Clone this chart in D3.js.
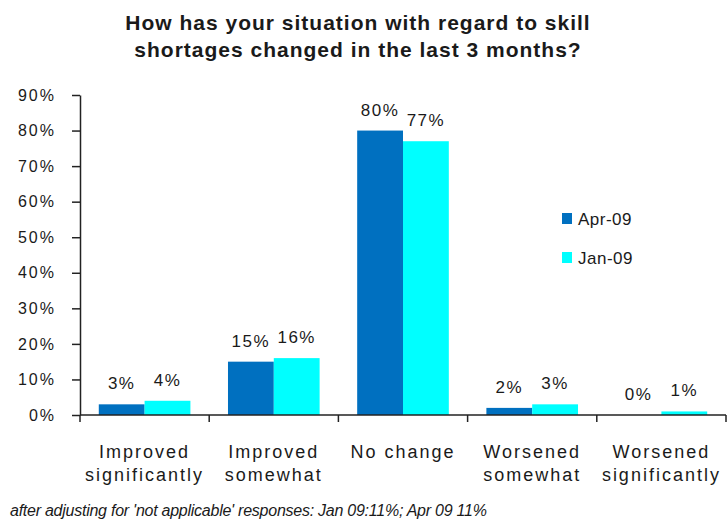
<!DOCTYPE html>
<html>
<head>
<meta charset="utf-8">
<script src="https://cdn.jsdelivr.net/npm/d3@7"></script>
<style>
  body { margin: 0; background: #fff; }
  text { fill: #1a1a1a; font-family: "Liberation Sans", Arial, sans-serif; }
</style>
</head>
<body>
<div class="chart"></div>
<script>
// data
const categories = [["Improved", "significantly"], ["Improved", "somewhat"], ["No change"], ["Worsened", "somewhat"], ["Worsened", "significantly"]];
const seriesNames = ["Apr-09", "Jan-09"];
const apr09 = [3, 15, 80, 2, 0];
const jan09 = [4, 16, 77, 3, 1];
const yTicks = [0, 10, 20, 30, 40, 50, 60, 70, 80, 90];
const colors = ["#0070c0", "#00ffff"];

const width = 727, height = 530;
const margin = {top: 95, right: 1, bottom: 115, left: 80};

const svg = d3.select(".chart").append("svg")
    .attr("width", width)
    .attr("height", height);

// title
svg.append("text")
    .attr("x", 358).attr("y", 30)
    .attr("text-anchor", "middle")
    .style("font-size", "21px")
    .style("font-weight", "bold")
    .style("letter-spacing", "1px")
    .selectAll("tspan")
    .data(["How has your situation with regard to skill", "shortages changed in the last 3 months?"])
    .enter().append("tspan")
    .attr("x", 358)
    .attr("dy", (d, i) => i ? 27 : 0)
    .text(d => d);

const x = d3.scaleBand()
    .domain(d3.range(categories.length))
    .range([margin.left, width - margin.right])
    .paddingInner(0)
    .paddingOuter(0);

const xs = d3.scaleBand()
    .domain(seriesNames)
    .range([0, x.bandwidth()])
    .paddingInner(0)
    .paddingOuter(0.41);

const y = d3.scaleLinear()
    .domain([0, 90])
    .range([height - margin.bottom, margin.top]);

// y axis
const yAxis = svg.append("g")
    .attr("transform", `translate(${margin.left},0)`)
    .call(d3.axisLeft(y).tickValues(yTicks).tickFormat(d => d + "%").tickSize(8).tickSizeOuter(0));
yAxis.select(".domain").attr("stroke", "#222").attr("stroke-width", 1.5);
yAxis.selectAll(".tick line").attr("stroke", "#222").attr("stroke-width", 1.5);
yAxis.selectAll("text")
    .attr("x", -24)
    .style("font-size", "16px")
    .style("letter-spacing", "2px")
    .attr("fill", "#1a1a1a");

// bars
const groups = svg.append("g").selectAll("g")
    .data(categories.map((c, i) => ({i, vals: [apr09[i], jan09[i]]})))
    .enter().append("g")
    .attr("transform", d => `translate(${x(d.i)},0)`);

groups.selectAll("rect")
    .data(d => d.vals.map((v, k) => ({v, k})))
    .enter().append("rect")
    .attr("x", d => xs(seriesNames[d.k]))
    .attr("y", d => y(d.v))
    .attr("width", xs.bandwidth())
    .attr("height", d => y(0) - y(d.v))
    .attr("fill", d => colors[d.k]);

groups.selectAll(".lbl")
    .data(d => d.vals.map((v, k) => ({v, k})))
    .enter().append("text")
    .attr("class", "lbl")
    .attr("x", d => xs(seriesNames[d.k]) + xs.bandwidth() / 2)
    .attr("y", d => y(d.v) - 15)
    .attr("text-anchor", "middle")
    .style("font-size", "17px")
    .style("letter-spacing", "1.5px")
    .text(d => d.v + "%");

// x axis
const xAxis = svg.append("g")
    .attr("transform", `translate(0,${y(0)})`);
xAxis.append("line")
    .attr("x1", margin.left).attr("x2", width - margin.right)
    .attr("stroke", "#222").attr("stroke-width", 1.5);
xAxis.selectAll(".tk")
    .data(d3.range(categories.length + 1))
    .enter().append("line")
    .attr("x1", d => d < categories.length ? x(d) : x(d - 1) + x.bandwidth())
    .attr("x2", d => d < categories.length ? x(d) : x(d - 1) + x.bandwidth())
    .attr("y1", 0).attr("y2", 7)
    .attr("stroke", "#222").attr("stroke-width", 1.5);

xAxis.selectAll(".cat")
    .data(categories)
    .enter().append("text")
    .attr("class", "cat")
    .attr("text-anchor", "middle")
    .style("font-size", "18px")
    .style("letter-spacing", "2px")
    .selectAll("tspan")
    .data((d, i) => d.map(t => ({t, i})))
    .enter().append("tspan")
    .attr("x", d => x(d.i) + x.bandwidth() / 2)
    .attr("y", (d, j) => 43 + j * 23)
    .text(d => d.t);

// legend
const legend = svg.append("g").attr("transform", "translate(562,213)");
seriesNames.forEach((s, i) => {
  const g = legend.append("g").attr("transform", `translate(0,${i * 39})`);
  g.append("rect").attr("width", 10).attr("height", 11).attr("fill", colors[i]);
  g.append("text").attr("x", 16).attr("y", 12)
      .style("font-size", "17px")
      .style("letter-spacing", "0.5px")
      .text(s);
});

// footnote
svg.append("text")
    .attr("x", 10).attr("y", 516)
    .style("font-size", "16px")
    .style("font-style", "italic")
    .style("letter-spacing", "-0.25px")
    .text("after adjusting for 'not applicable' responses: Jan 09:11%; Apr 09 11%");
</script>
</body>
</html>
